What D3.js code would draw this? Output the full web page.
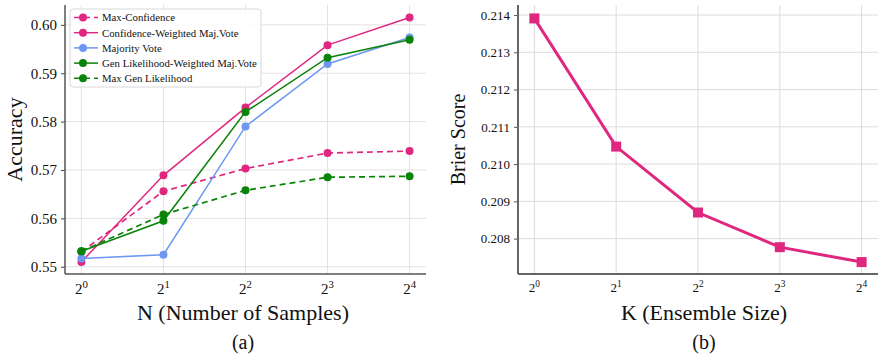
<!DOCTYPE html>
<html>
<head>
<meta charset="utf-8">
<script src="https://d3js.org/d3.v7.min.js"></script>
<style>
  body { margin: 0; background: #fff; }
  svg text { font-family: "Liberation Serif", "Times New Roman", serif; fill: #111; }
</style>
</head>
<body>
<div id="chart"></div>
<script>
// exponents of 2 on the x axis
var exponents = [0, 1, 2, 3, 4];

// panel (a) accuracy values
var maxConfidence = [0.5531, 0.5656, 0.5703, 0.5735, 0.5739];
var confWeighted = [0.5510, 0.5689, 0.5829, 0.5958, 0.6015];
var majorityVote = [0.5517, 0.5525, 0.5790, 0.5919, 0.5974];
var genLikWeighted = [0.5532, 0.5595, 0.5820, 0.5932, 0.5969];
var maxGenLik = [0.5532, 0.5608, 0.5658, 0.5685, 0.5687];
var accTicks = [0.55, 0.56, 0.57, 0.58, 0.59, 0.60];

// panel (b) brier values
var brier = [0.21391, 0.21047, 0.20870, 0.20777, 0.20737];
var brierTicks = [0.208, 0.209, 0.210, 0.211, 0.212, 0.213, 0.214];

var pink = "#e0277f", blue = "#6d97f0", green = "#0a830a";

var seriesA = [
  {name: "Max-Confidence", values: maxConfidence, color: pink, dash: "6,4"},
  {name: "Confidence-Weighted Maj.Vote", values: confWeighted, color: pink, dash: null},
  {name: "Majority Vote", values: majorityVote, color: blue, dash: null},
  {name: "Gen Likelihood-Weighted Maj.Vote", values: genLikWeighted, color: green, dash: null},
  {name: "Max Gen Likelihood", values: maxGenLik, color: green, dash: "6,4"}
];

var svg = d3.select("#chart").append("svg")
    .attr("width", 878).attr("height", 354);

// draws 2^k tick labels under an axis
function powTicks(g, x, y0, size) {
  exponents.forEach(function(e) {
    var t = g.append("text")
        .attr("x", x(e))
        .attr("y", y0)
        .attr("text-anchor", "middle")
        .style("font-size", size + "px");
    t.append("tspan").text("2");
    t.append("tspan").attr("dy", -size * 0.4).style("font-size", (size * 0.72) + "px").text(e);
  });
}

// ---------- panel (a) ----------
var a = {left: 65, right: 426, top: 5, bottom: 274};
var xA = d3.scaleLinear().domain([-0.2, 4.2]).range([a.left, a.right]);
var yA = d3.scaleLinear().domain([0.5485, 0.6041]).range([a.bottom, a.top]);

var gA = svg.append("g");

// grid
gA.selectAll(".vg").data(exponents).enter().append("line")
    .attr("x1", d => xA(d)).attr("x2", d => xA(d))
    .attr("y1", a.top).attr("y2", a.bottom)
    .attr("stroke", "#e3e3e3").attr("stroke-width", 1);
gA.selectAll(".hg").data(accTicks).enter().append("line")
    .attr("x1", a.left).attr("x2", a.right)
    .attr("y1", d => yA(d)).attr("y2", d => yA(d))
    .attr("stroke", "#e3e3e3").attr("stroke-width", 1);

// y axis
var yAxisA = gA.append("g").attr("transform", "translate(" + a.left + ",0)")
    .call(d3.axisLeft(yA).tickValues(accTicks).tickFormat(d3.format(".2f")).tickSize(4).tickPadding(4));
yAxisA.select(".domain").remove();
yAxisA.selectAll("line").attr("stroke", "#444");
yAxisA.selectAll("text").style("font-size", "15px")
    .style("font-family", "Liberation Serif, serif").attr("fill", "#111");

// spines
gA.append("line").attr("x1", a.left).attr("x2", a.left).attr("y1", a.top).attr("y2", a.bottom)
    .attr("stroke", "#555").attr("stroke-width", 1.5);
gA.append("line").attr("x1", a.left).attr("x2", a.right).attr("y1", a.bottom).attr("y2", a.bottom)
    .attr("stroke", "#555").attr("stroke-width", 1.5);

powTicks(gA, xA, 294, 15);

var lineA = d3.line().x((d, i) => xA(exponents[i])).y(d => yA(d));

seriesA.forEach(function(s) {
  gA.append("path").datum(s.values)
      .attr("d", lineA)
      .attr("fill", "none")
      .attr("stroke", s.color)
      .attr("stroke-width", s.dash ? 1.7 : 1.5)
      .attr("stroke-dasharray", s.dash);
  gA.selectAll(null).data(s.values).enter().append("circle")
      .attr("cx", (d, i) => xA(exponents[i]))
      .attr("cy", d => yA(d))
      .attr("r", 4)
      .attr("fill", s.color);
});

// legend
var lg = gA.append("g").attr("transform", "translate(70,9)");
lg.append("rect").attr("width", 191).attr("height", 78).attr("rx", 3)
    .attr("fill", "#fff").attr("fill-opacity", 0.85)
    .attr("stroke", "#d8d8d8");
var legendTexts = [];
seriesA.forEach(function(s, i) {
  var y = 8.5 + i * 15.2;
  lg.append("line").attr("x1", 4).attr("x2", 28).attr("y1", y).attr("y2", y)
      .attr("stroke", s.color).attr("stroke-width", 1.5)
      .attr("stroke-dasharray", s.dash);
  lg.append("circle").attr("cx", 13).attr("cy", y).attr("r", 4).attr("fill", s.color);
  legendTexts.push(lg.append("text").attr("x", 32).attr("y", y + 3.8)
      .style("font-size", "11px").text(s.name));
});
// fit the longest legend entry to the width seen in the original
var longest = d3.max(legendTexts, t => t.node().getComputedTextLength());
var fs = Math.min(12, 11 * 155 / longest);
legendTexts.forEach(t => t.style("font-size", fs + "px"));

gA.append("text").attr("transform", "translate(22," + ((a.top + a.bottom) / 2) + ") rotate(-90)")
    .attr("text-anchor", "middle").style("font-size", "22px").text("Accuracy");
gA.append("text").attr("x", 243).attr("y", 320).attr("text-anchor", "middle")
    .style("font-size", "22px").text("N (Number of Samples)");
gA.append("text").attr("x", 243).attr("y", 349).attr("text-anchor", "middle")
    .style("font-size", "20px").text("(a)");

// ---------- panel (b) ----------
var b = {left: 518, right: 878, top: 5, bottom: 274};
var xB = d3.scaleLinear().domain([-0.2, 4.2]).range([b.left, b.right]);
var yB = d3.scaleLinear().domain([0.20705, 0.21427]).range([b.bottom, b.top]);

var gB = svg.append("g");

gB.selectAll(".vg").data(exponents).enter().append("line")
    .attr("x1", d => xB(d)).attr("x2", d => xB(d))
    .attr("y1", b.top).attr("y2", b.bottom)
    .attr("stroke", "#dcdcdc").attr("stroke-width", 1);
gB.selectAll(".hg").data(brierTicks).enter().append("line")
    .attr("x1", b.left).attr("x2", b.right)
    .attr("y1", d => yB(d)).attr("y2", d => yB(d))
    .attr("stroke", "#dcdcdc").attr("stroke-width", 1);

var yAxisB = gB.append("g").attr("transform", "translate(" + b.left + ",0)")
    .call(d3.axisLeft(yB).tickValues(brierTicks).tickFormat(d3.format(".3f")).tickSize(4).tickPadding(4));
yAxisB.select(".domain").remove();
yAxisB.selectAll("line").attr("stroke", "#555");
yAxisB.selectAll("text").style("font-size", "13px")
    .style("font-family", "Liberation Serif, serif").attr("fill", "#111");

gB.append("line").attr("x1", b.left).attr("x2", b.left).attr("y1", b.top).attr("y2", b.bottom)
    .attr("stroke", "#666").attr("stroke-width", 2);
gB.append("line").attr("x1", b.left).attr("x2", b.right).attr("y1", b.bottom).attr("y2", b.bottom)
    .attr("stroke", "#666").attr("stroke-width", 2);

powTicks(gB, xB, 292, 13);

var lineB = d3.line().x((d, i) => xB(exponents[i])).y(d => yB(d));
gB.append("path").datum(brier).attr("d", lineB)
    .attr("fill", "none").attr("stroke", pink).attr("stroke-width", 3);
gB.selectAll(null).data(brier).enter().append("rect")
    .attr("x", (d, i) => xB(exponents[i]) - 5)
    .attr("y", d => yB(d) - 5)
    .attr("width", 10).attr("height", 10)
    .attr("fill", pink);

gB.append("text").attr("transform", "translate(465," + ((b.top + b.bottom) / 2) + ") rotate(-90)")
    .attr("text-anchor", "middle").style("font-size", "20px").text("Brier Score");
gB.append("text").attr("x", 704).attr("y", 320).attr("text-anchor", "middle")
    .style("font-size", "22px").text("K (Ensemble Size)");
gB.append("text").attr("x", 704).attr("y", 349).attr("text-anchor", "middle")
    .style("font-size", "20px").text("(b)");
</script>
</body>
</html>
